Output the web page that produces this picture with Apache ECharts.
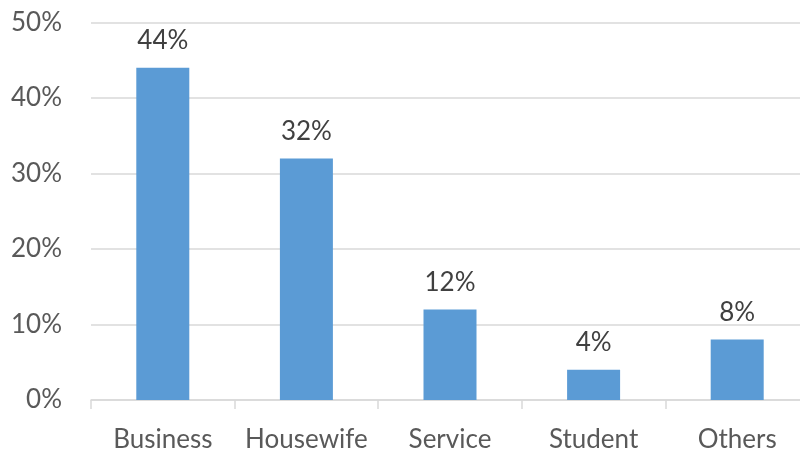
<!DOCTYPE html>
<html>
<head>
<meta charset="utf-8">
<script src="https://cdn.jsdelivr.net/npm/echarts@6/dist/echarts.min.js"></script>
<style>
  html, body { margin: 0; padding: 0; background: #fff; }
  #chart { width: 800px; height: 452px; }
</style>
</head>
<body>
<div id="chart"></div>
<script>
// Occupation share (percent)
const categories = ['Business', 'Housewife', 'Service', 'Student', 'Others'];
const shares = [44, 32, 12, 4, 8];
const yTicks = [0, 10, 20, 30, 40, 50];

const font = 'Lato, "Open Sans", sans-serif';
const chart = echarts.init(document.getElementById('chart'));
chart.setOption({
  animation: false,
  // plot runs past the right edge of the canvas
  grid: { left: 91, width: 718, top: 22.5, bottom: 52, containLabel: false, outerBoundsMode: 'none' },
  xAxis: {
    type: 'category',
    data: categories,
    axisLine: { lineStyle: { color: '#d9d9d9', width: 1.5 } },
    axisTick: { show: true, length: 9, lineStyle: { color: '#d9d9d9', width: 1.5 } },
    axisLabel: { color: '#595959', fontSize: 26, fontFamily: font, margin: 27, interval: 0 }
  },
  yAxis: {
    type: 'value',
    min: yTicks[0],
    max: yTicks[yTicks.length - 1],
    interval: 10,
    axisLine: { show: false },
    axisTick: { show: false },
    splitLine: { lineStyle: { color: '#d9d9d9', width: 1.5 } },
    axisLabel: { color: '#595959', fontSize: 26, fontFamily: font, margin: 29,
      formatter: v => v + '%' }
  },
  series: [{
    type: 'bar',
    data: shares,
    barWidth: 53,
    itemStyle: { color: '#5b9bd5' },
    label: {
      show: true,
      position: 'top',
      distance: 14,
      color: '#404040',
      fontSize: 26,
      fontFamily: font,
      formatter: p => p.value + '%'
    }
  }]
});
</script>
</body>
</html>
